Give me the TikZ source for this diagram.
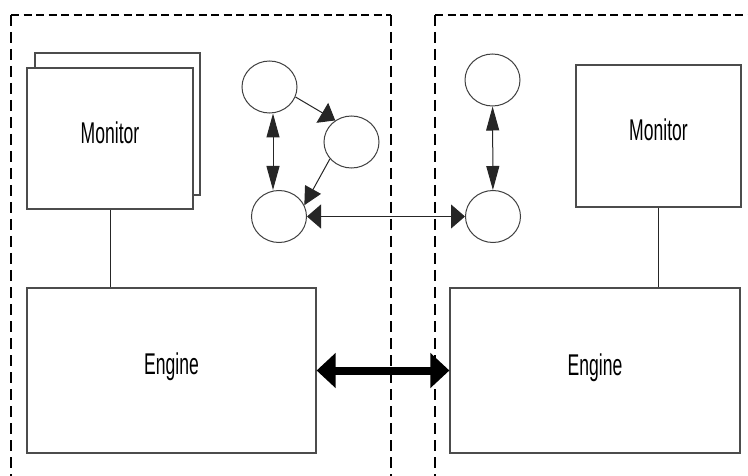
\documentclass[tikz,border=0pt]{standalone}
\usepackage{fontspec}
\setmainfont{Liberation Sans}
\usetikzlibrary{arrows.meta,shapes.geometric}
\newcommand{\narrow}[1]{\scalebox{0.585}[1]{#1}}
\tikzset{
  htip/.tip={Triangle[length=14pt,width=24pt]},
  vtip/.tip={Triangle[length=24pt,width=13pt]},
  dtipa/.tip={Triangle[length=15pt,width=23pt]},
  dtipb/.tip={Triangle[length=18pt,width=18pt]},
  bigtip/.tip={Triangle[length=19pt,width=34pt]},
}
\begin{document}
\begin{tikzpicture}[x=1pt,y=-1pt,
  hzone/.style={line width=1.8pt, dash pattern=on 8pt off 4.5pt},
  vzone/.style={line width=1.4pt, dash pattern=on 11pt off 6pt},
  panel/.style={rectangle, draw=black!70, line width=1.2pt, fill=white, inner sep=0pt},
  proc/.style={ellipse, draw=black!75, line width=1pt, minimum width=55pt,
               minimum height=52pt, inner sep=0pt, fill=white},
  wire/.style={draw=black!85, line width=1pt},
  lbl/.style={font=\fontsize{30}{30}\selectfont, anchor=base, inner sep=0pt},
]
\clip (0,0) rectangle (748,476);
\fill[white] (0,0) rectangle (748,476);

% two dashed zones, open at the bottom
\draw[hzone] (11,15) -- (391,15);
\draw[vzone] (11,15) -- (11,490);
\draw[vzone] (391,15) -- (391,490);
\draw[hzone] (435,15) -- (760,15);
\draw[vzone] (435,15) -- (435,490);

% left side: stacked monitors and engine
\node[panel, minimum width=165pt, minimum height=142pt] (monLback) at (117.5,124) {};
\node[panel, minimum width=166pt, minimum height=141pt] (monL) at (110,138.5) {};
\node[lbl] (monLtxt) at (110,144) {\narrow{Monitor}};
\node[panel, minimum width=289pt, minimum height=165pt] (engL) at (171.5,370.5) {};
\node[lbl] (engLtxt) at (171.5,374.5) {\narrow{Engine}};
\draw[wire] (monL.south) -- (monL.south |- engL.north);

% right side: monitor and engine
\node[panel, minimum width=165pt, minimum height=142pt] (monR) at (658.5,136) {};
\node[lbl] (monRtxt) at (658.5,141) {\narrow{Monitor}};
\node[panel, minimum width=290pt, minimum height=165pt] (engR) at (595,370.5) {};
\node[lbl] (engRtxt) at (595,375) {\narrow{Engine}};
\draw[wire] (monR.south) -- (monR.south |- engR.north);

% process graph
\node[proc] (p1) at (269.5,87) {};
\node[proc] (p2) at (351.5,142) {};
\node[proc] (p3) at (279,216.5) {};
\node[proc] (p4) at (492.5,80) {};
\node[proc] (p5) at (493,216.5) {};
\coordinate (vx) at (273,0);

\draw[wire, -{dtipa}] (p1.339) -- (p2.127);
\draw[wire, -{dtipb}] (p2.218) -- (p3.24);
\draw[wire, {vtip}-{vtip}] (p1.south -| vx) -- (p3.north -| vx);
\draw[wire, {vtip}-{vtip}] (p4) -- (p5);
\draw[wire, {htip}-{htip}] (p3) -- (p5);

% engine-to-engine channel
\draw[line width=8pt, {bigtip}-{bigtip}] (engL.east) -- (engR.west);
\end{tikzpicture}
\end{document}
